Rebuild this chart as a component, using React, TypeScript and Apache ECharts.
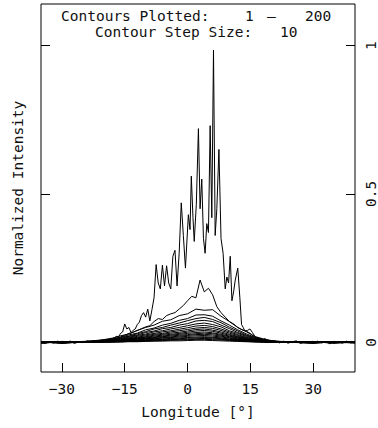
import React, { useEffect, useRef } from "react";
import * as echarts from "echarts";

const X_TICKS = [-30, -15, 0, 15, 30];
const Y_TICKS = [0, 0.5, 1];

// Contour 1 (top, noisy)
const TOP_LON = [
  -35, -34, -33, -32, -31, -30, -29, -28, -27, -26, -25, -24, -23, -22, -21,
  -20, -19.5, -19, -18.5, -18, -17.5, -17, -16.5, -16, -15.5, -15, -14.5, -14, -13.5, -13, -12.5,
  -12, -11.5, -11, -10.5, -10, -9.5, -9, -8.5, -8, -7.5, -7, -6.5, -6, -5.5, -5, -4.5, -4, -3.5,
  -3, -2.5, -2, -1.5, -1, -0.5, 0.2, 0.6, 0.9, 1.3, 1.6, 2.1, 2.6, 3.0, 3.4, 3.8, 4.2, 4.6, 5.0,
  5.4, 5.8, 6.2, 6.6, 7.0, 7.5, 8.0, 8.5, 9.0, 9.4, 9.8, 10.2, 10.6, 11.0, 11.4, 12.0, 12.5, 12.9,
  13.3, 13.7, 14.3, 14.9, 15.5, 16.1, 16.5, 17, 17.5, 18, 18.5, 19, 20,
  21, 22, 23, 24, 25, 26, 27, 28, 29, 30, 31, 32, 33, 34, 35, 36, 37, 38, 39, 40,
];
const TOP_VAL = [
  0.002, -0.004, 0.003, -0.003, 0.004, -0.002, 0.001, 0.004, -0.004, 0.002, -0.001, 0.005, 0.003, 0.006, 0.004,
  0.008, 0.01, 0.006, 0.012, 0.01, 0.015, 0.02, 0.018, 0.03, 0.035, 0.062, 0.045, 0.05, 0.033, 0.04, 0.045,
  0.06, 0.068, 0.09, 0.1, 0.085, 0.112, 0.072, 0.11, 0.15, 0.262, 0.2, 0.18, 0.26, 0.19, 0.258, 0.2, 0.18, 0.29,
  0.31, 0.19, 0.3, 0.47, 0.36, 0.25, 0.43, 0.38, 0.56, 0.42, 0.34, 0.465, 0.72, 0.45, 0.55, 0.35, 0.3, 0.4, 0.37,
  0.73, 0.42, 0.985, 0.36, 0.45, 0.65, 0.35, 0.3, 0.18, 0.22, 0.2, 0.29, 0.14, 0.17, 0.21, 0.25, 0.15, 0.06,
  0.05, 0.038, 0.04, 0.045, 0.033, 0.02, 0.01, 0.012, 0.01, 0.008, 0.013, 0.006, 0.005,
  0.003, -0.002, 0.004, -0.003, 0.002, 0.005, -0.004, 0.001, 0.003, -0.003, 0.004, -0.002, 0.002, -0.005, 0.003, 0.001, -0.003, 0.004, -0.002, 0.002,
];

// Contour 11
const L2_LON = [
  -35, -30, -25, -20, -19, -18, -17, -16, -15, -14, -13, -12, -11, -10, -9, -8, -7, -6, -5, -4, -3, -2, -1,
  0, 1, 2, 3, 4, 5, 6, 7, 8, 9, 10, 11, 12, 13, 14, 15, 16, 17, 18, 19, 20, 25, 30, 35, 40,
];
const L2_VAL = [
  0.002, -0.002, 0.003, 0.006, 0.008, 0.01, 0.014, 0.018, 0.024, 0.03, 0.034, 0.04, 0.046, 0.052, 0.056, 0.07, 0.08, 0.077, 0.09, 0.096, 0.1, 0.112, 0.124,
  0.14, 0.155, 0.15, 0.21, 0.17, 0.182, 0.16, 0.12, 0.1, 0.085, 0.07, 0.062, 0.05, 0.042, 0.038, 0.03, 0.018, 0.012, 0.008, 0.006, 0.004, 0.002, -0.002, 0.001, 0.0,
];

// Contours 21 .. 191 on a shared longitude grid
const LOW_LON = [
  -35, -30, -26, -24, -22, -20, -18, -16, -14, -12, -10, -8, -6, -4, -2, 0, 2, 4, 6, 8, 10, 12, 14, 16, 18, 20, 22, 24, 30, 35, 40,
];
const LINE_03 = [0.003, -0.002, 0.001, 0.003, 0.006, 0.009, 0.014, 0.022, 0.028, 0.04, 0.05, 0.058, 0.071, 0.076, 0.09, 0.096, 0.112, 0.108, 0.11, 0.088, 0.07, 0.05, 0.036, 0.02, 0.012, 0.006, 0.003, 0.001, -0.002, 0.003, 0.0];
const LINE_04 = [-0.002, 0.003, 0.001, 0.002, 0.005, 0.008, 0.012, 0.017, 0.025, 0.031, 0.042, 0.048, 0.058, 0.064, 0.074, 0.08, 0.092, 0.093, 0.088, 0.072, 0.058, 0.042, 0.029, 0.017, 0.01, 0.005, 0.002, 0.001, 0.003, -0.002, 0.002];
const LINE_05 = [0.001, -0.003, 0.001, 0.002, 0.004, 0.007, 0.01, 0.016, 0.021, 0.029, 0.036, 0.045, 0.05, 0.058, 0.065, 0.073, 0.08, 0.084, 0.077, 0.066, 0.051, 0.038, 0.025, 0.016, 0.009, 0.004, 0.002, 0.001, -0.003, 0.002, -0.001];
const LINE_06 = [-0.003, 0.002, 0.001, 0.002, 0.004, 0.006, 0.009, 0.013, 0.02, 0.025, 0.033, 0.038, 0.046, 0.05, 0.058, 0.063, 0.072, 0.074, 0.07, 0.058, 0.046, 0.033, 0.023, 0.013, 0.008, 0.004, 0.002, 0.0, 0.002, -0.003, 0.001];
const LINE_07 = [0.002, -0.001, 0.001, 0.002, 0.003, 0.005, 0.008, 0.012, 0.017, 0.023, 0.028, 0.035, 0.039, 0.045, 0.05, 0.056, 0.062, 0.065, 0.06, 0.052, 0.039, 0.03, 0.02, 0.012, 0.007, 0.003, 0.001, 0.0, -0.001, 0.002, -0.002];
const LINE_08 = [-0.001, 0.003, 0.001, 0.001, 0.003, 0.005, 0.007, 0.01, 0.015, 0.02, 0.025, 0.03, 0.035, 0.039, 0.044, 0.049, 0.055, 0.057, 0.053, 0.045, 0.035, 0.026, 0.017, 0.01, 0.006, 0.003, 0.001, 0.0, 0.002, -0.001, 0.003];
const LINE_09 = [0.003, -0.002, 0.0, 0.001, 0.003, 0.004, 0.006, 0.009, 0.013, 0.017, 0.022, 0.027, 0.03, 0.035, 0.039, 0.043, 0.048, 0.05, 0.047, 0.04, 0.031, 0.023, 0.015, 0.009, 0.005, 0.002, 0.001, 0.0, -0.002, 0.001, 0.0];
const LINE_10 = [-0.002, 0.001, 0.0, 0.001, 0.002, 0.004, 0.005, 0.008, 0.012, 0.015, 0.019, 0.024, 0.027, 0.031, 0.034, 0.038, 0.043, 0.045, 0.041, 0.035, 0.027, 0.02, 0.013, 0.008, 0.004, 0.002, 0.001, 0.0, 0.001, -0.002, 0.002];
const LINE_11 = [0.001, -0.003, 0.0, 0.001, 0.002, 0.003, 0.005, 0.007, 0.01, 0.014, 0.017, 0.021, 0.024, 0.027, 0.03, 0.034, 0.038, 0.04, 0.037, 0.031, 0.024, 0.018, 0.012, 0.007, 0.004, 0.002, 0.001, 0.0, -0.001, 0.002, -0.001];
const LINE_12 = [-0.001, 0.002, 0.0, 0.001, 0.002, 0.003, 0.004, 0.006, 0.009, 0.012, 0.015, 0.018, 0.021, 0.024, 0.027, 0.03, 0.033, 0.035, 0.032, 0.027, 0.021, 0.016, 0.01, 0.006, 0.003, 0.002, 0.001, 0.0, 0.002, 0.0, -0.002];
const LINE_13 = [0.002, 0.0, 0.0, 0.001, 0.002, 0.003, 0.004, 0.006, 0.008, 0.011, 0.013, 0.016, 0.019, 0.021, 0.024, 0.026, 0.029, 0.031, 0.029, 0.024, 0.019, 0.014, 0.009, 0.006, 0.003, 0.001, 0.0, 0.0, -0.002, 0.001, 0.001];
const LINE_14 = [-0.002, 0.001, 0.0, 0.001, 0.001, 0.002, 0.003, 0.005, 0.007, 0.009, 0.012, 0.014, 0.016, 0.018, 0.021, 0.023, 0.026, 0.027, 0.025, 0.021, 0.016, 0.012, 0.008, 0.005, 0.003, 0.001, 0.0, 0.0, 0.001, -0.001, 0.0];
const LINE_15 = [0.0, -0.001, 0.0, 0.0, 0.001, 0.002, 0.003, 0.004, 0.006, 0.008, 0.01, 0.012, 0.014, 0.016, 0.018, 0.02, 0.022, 0.023, 0.021, 0.018, 0.014, 0.01, 0.007, 0.004, 0.002, 0.001, 0.0, 0.0, -0.001, 0.002, -0.001];
const LINE_16 = [0.001, 0.0, 0.0, 0.0, 0.001, 0.002, 0.002, 0.003, 0.005, 0.006, 0.008, 0.01, 0.011, 0.013, 0.015, 0.016, 0.018, 0.019, 0.017, 0.015, 0.011, 0.009, 0.006, 0.003, 0.002, 0.001, 0.0, 0.0, 0.0, -0.001, 0.001];
const LINE_17 = [-0.001, 0.001, 0.0, 0.0, 0.001, 0.001, 0.002, 0.003, 0.004, 0.005, 0.007, 0.008, 0.01, 0.011, 0.012, 0.014, 0.015, 0.016, 0.015, 0.012, 0.01, 0.007, 0.005, 0.003, 0.002, 0.001, 0.0, 0.0, 0.001, 0.0, -0.001];
const LINE_18 = [0.0, -0.001, 0.0, 0.0, 0.001, 0.001, 0.002, 0.002, 0.003, 0.004, 0.006, 0.007, 0.008, 0.009, 0.01, 0.011, 0.012, 0.013, 0.012, 0.01, 0.008, 0.006, 0.004, 0.002, 0.001, 0.001, 0.0, 0.0, -0.001, 0.001, 0.0];
const LINE_19 = [0.001, 0.0, 0.0, 0.0, 0.0, 0.001, 0.001, 0.002, 0.003, 0.003, 0.004, 0.005, 0.006, 0.007, 0.008, 0.009, 0.01, 0.01, 0.009, 0.008, 0.006, 0.005, 0.003, 0.002, 0.001, 0.0, 0.0, 0.0, 0.0, 0.001, -0.001];
const LINE_20 = [0.0, 0.001, 0.0, 0.0, 0.0, 0.001, 0.001, 0.001, 0.002, 0.002, 0.003, 0.004, 0.004, 0.005, 0.005, 0.006, 0.007, 0.007, 0.006, 0.005, 0.004, 0.003, 0.002, 0.001, 0.001, 0.0, 0.0, 0.0, 0.001, 0.0, 0.0];

const LOWER_LINES = [
  LINE_03, LINE_04, LINE_05, LINE_06, LINE_07, LINE_08, LINE_09, LINE_10, LINE_11,
  LINE_12, LINE_13, LINE_14, LINE_15, LINE_16, LINE_17, LINE_18, LINE_19, LINE_20,
];

const FONT = "DejaVu Sans Mono";
const FS = 14.5;
const INK = "#111";

function pairs(xs: number[], ys: number[]) {
  return xs.map((x, i) => [x, ys[i]]);
}

export default function App() {
  const ref = useRef<HTMLDivElement>(null);
  useEffect(() => {
    const chart = echarts.init(ref.current!, null, { renderer: "svg" });
    const lineStyle = { color: "#000", width: 1 };
    const mk = (name: string, data: number[][]) => ({
      name,
      type: "line",
      data,
      showSymbol: false,
      symbol: "none",
      lineStyle,
      silent: true,
    });
    const series = [
      mk("Contour 1", pairs(TOP_LON, TOP_VAL)),
      mk("Contour 11", pairs(L2_LON, L2_VAL)),
      ...LOWER_LINES.map((vals, i) => mk("Contour " + (21 + i * 10), pairs(LOW_LON, vals))),
    ];
    const tickCommon = { show: true, inside: true, length: 9, lineStyle: { color: "#000", width: 1 } };
    const txt = (text: string, x: number, y: number) => ({
      type: "text",
      x,
      y,
      style: { text, fontSize: FS, fontFamily: FONT, fill: INK, textAlign: "left", textVerticalAlign: "middle" },
    });
    chart.setOption({
      animation: false,
      backgroundColor: "#fff",
      grid: { left: 41, right: 21, top: 4, bottom: 56, show: true, borderColor: "#000", borderWidth: 1 },
      xAxis: {
        type: "value",
        min: -35,
        max: 40,
        axisLine: { show: false, onZero: false },
        splitLine: { show: false },
        axisTick: { ...tickCommon, customValues: X_TICKS },
        axisLabel: {
          customValues: X_TICKS,
          margin: 9,
          fontSize: FS,
          fontFamily: FONT,
          color: INK,
          formatter: (v: number) => (v < 0 ? "\u2212" + Math.abs(v) : String(v)),
        },
        name: "Longitude [°]",
        nameLocation: "middle",
        nameGap: 32,
        nameTextStyle: { fontSize: FS, fontFamily: FONT, color: INK },
      },
      yAxis: [
        {
          type: "value",
          position: "left",
          min: -0.1,
          max: 1.14,
          axisLine: { show: false, onZero: false },
          splitLine: { show: false },
          axisTick: { ...tickCommon, customValues: Y_TICKS },
          axisLabel: { show: false },
          name: "Normalized Intensity",
          nameLocation: "middle",
          nameGap: 16,
          nameTextStyle: { fontSize: FS, fontFamily: FONT, color: INK },
        },
        {
          type: "value",
          position: "right",
          min: -0.1,
          max: 1.14,
          axisLine: { show: false, onZero: false },
          splitLine: { show: false },
          axisTick: { ...tickCommon, customValues: Y_TICKS },
          axisLabel: {
            customValues: Y_TICKS,
            rotate: 90,
            margin: 8,
            fontSize: FS,
            fontFamily: FONT,
            color: INK,
            formatter: (v: number) => String(v),
          },
        },
      ],
      graphic: [
        txt("Contours Plotted:", 61, 16),
        txt("1", 245, 16),
        txt("\u2013", 267, 16),
        txt("200", 305, 16),
        txt("Contour Step Size:", 95, 32),
        txt("10", 280, 32),
      ],
      series,
    });
    return () => chart.dispose();
  }, []);
  return (
    <div
      ref={ref}
      style={{ position: "absolute", left: 0, top: 0, width: 378, height: 428, background: "#fff" }}
    />
  );
}
